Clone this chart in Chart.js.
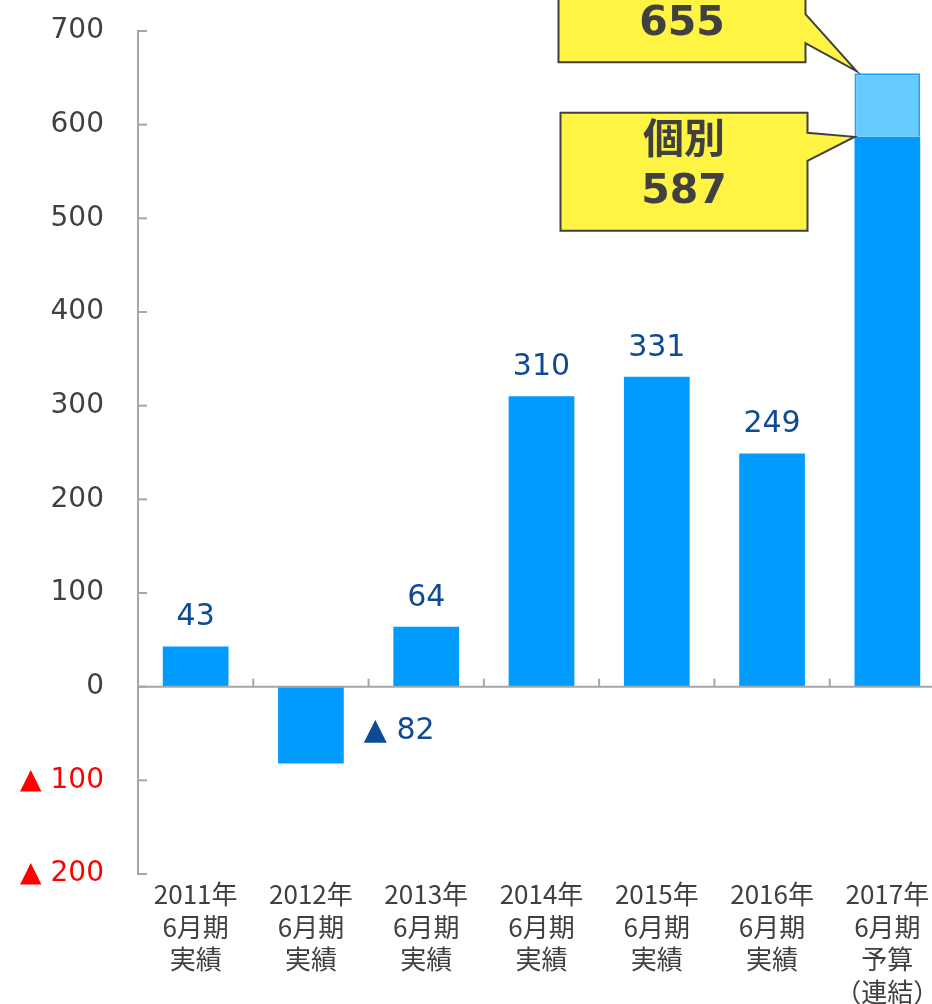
<!DOCTYPE html>
<html>
<head>
<meta charset="utf-8">
<script src="https://cdn.jsdelivr.net/npm/chart.js@4/dist/chart.umd.min.js"></script>
<style>
  html, body { margin: 0; padding: 0; background: #fff; overflow: hidden; }
  #wrap { width: 932px; height: 1004px; overflow: hidden; }
</style>
</head>
<body>
<div id="wrap"><canvas id="bar-chart" width="960" height="1004"></canvas></div>
<script>
// categories (x axis)
var categories = [
  ['2011年', '6月期', '実績'],
  ['2012年', '6月期', '実績'],
  ['2013年', '6月期', '実績'],
  ['2014年', '6月期', '実績'],
  ['2015年', '6月期', '実績'],
  ['2016年', '6月期', '実績'],
  ['2017年', '6月期', '予算', '（連結）']
];
// 個別 values
var kobetsu = [43, -82, 64, 310, 331, 249, 587];
// 連結 budget (last year only)
var renketsu = [null, null, null, null, null, null, 655];
// y ticks
var yMin = -200, yMax = 700, yStep = 100;

var upper = renketsu.map(function(v, i){ return v === null ? null : v - kobetsu[i]; });

var AXIS = '#A6A6A6';
var TXT = '#404040';
var LBL = '#0F4A94';

function tri(v){ return v < 0 ? '▲ ' + (-v) : String(v); }

var decor = {
  id: 'decor',
  afterDatasetsDraw: function(chart){
    var c = chart.ctx, a = chart.chartArea;
    var xs = chart.scales.x, ys = chart.scales.y;
    var y0 = ys.getPixelForValue(0);
    c.save();
    // zero line + ticks
    c.strokeStyle = AXIS; c.lineWidth = 2;
    c.beginPath(); c.moveTo(a.left, y0); c.lineTo(a.right, y0); c.stroke();
    ys.ticks.forEach(function(t){
      var y = ys.getPixelForValue(t.value);
      c.beginPath(); c.moveTo(a.left, y); c.lineTo(a.left + 9, y); c.stroke();
    });
    for (var i = 1; i < categories.length; i++) {
      var x = (xs.getPixelForValue(i - 1) + xs.getPixelForValue(i)) / 2;
      c.beginPath(); c.moveTo(x, y0); c.lineTo(x, y0 - 8); c.stroke();
    }
    // value labels
    var meta = chart.getDatasetMeta(0);
    c.font = '30px "DejaVu Sans"';
    c.fillStyle = LBL;
    meta.data.forEach(function(bar, i){
      if (renketsu[i] !== null) return;
      var v = kobetsu[i];
      if (v >= 0) {
        c.textAlign = 'center'; c.textBaseline = 'alphabetic';
        c.fillText(String(v), bar.x, bar.y - 21);
      } else {
        c.textAlign = 'left'; c.textBaseline = 'middle';
        c.fillText(tri(v), bar.x + bar.width / 2 + 20, (y0 + bar.y) / 2 + 6);
      }
    });
    // callouts for the budget bar
    var last = kobetsu.length - 1;
    var b0 = meta.data[last];
    var b1 = chart.getDatasetMeta(1).data[last];
    var leftEdge = b0.x - b0.width / 2;
    callout(c, leftEdge + 2, b1.y - 2, 'top', ['連結', String(renketsu[last])]);
    callout(c, leftEdge, b0.y, 'mid', ['個別', String(kobetsu[last])]);
    c.restore();
  }
};

function callout(c, tx, ty, kind, lines){
  var w = 247, h = 118, r, t, p1, p2;
  if (kind === 'top') {
    r = tx - 51; t = ty - 9 - h; p1 = t + h - 48; p2 = t + h - 19;
  } else {
    r = tx - 47; t = ty - 24; p1 = t + 20; p2 = t + 48;
  }
  var l = r - w;
  c.beginPath();
  c.moveTo(l, t); c.lineTo(r, t); c.lineTo(r, p1); c.lineTo(tx, ty);
  c.lineTo(r, p2); c.lineTo(r, t + h); c.lineTo(l, t + h); c.closePath();
  c.fillStyle = '#FFF344'; c.fill();
  c.strokeStyle = '#404040'; c.lineWidth = 2; c.lineJoin = 'miter'; c.stroke();
  c.fillStyle = '#404040';
  c.font = 'bold 41px "DejaVu Sans", "Noto Sans CJK JP"';
  c.textAlign = 'center'; c.textBaseline = 'middle';
  c.fillText(lines[0], (l + r) / 2, t + 30);
  c.fillText(lines[1], (l + r) / 2, t + 80);
}

var ctx = document.getElementById('bar-chart');
var barGraph = new Chart(ctx, {
  type: 'bar',
  data: {
    labels: categories,
    datasets: [
      {
        label: '個別',
        data: kobetsu,
        backgroundColor: '#009BFF',
        barPercentage: 0.57,
        categoryPercentage: 1
      },
      {
        label: '連結',
        data: upper,
        backgroundColor: '#66CCFF',
        borderColor: '#1AA3FF',
        borderWidth: 2,
        barPercentage: 0.57,
        categoryPercentage: 1
      }
    ]
  },
  options: {
    responsive: false,
    animation: false,
    events: [],
    layout: { padding: { top: 31, right: 15, left: 0, bottom: 0 } },
    plugins: { legend: { display: false }, tooltip: { enabled: false } },
    scales: {
      x: {
        stacked: true,
        grid: { display: false, drawTicks: false },
        border: { display: false },
        ticks: {
          autoSkip: false, maxRotation: 0, padding: 4,
          color: TXT,
          font: { family: '"Noto Sans CJK JP"', size: 26, lineHeight: 1.25 }
        },
        afterFit: function(s){ s.height = 130; s.paddingLeft = 0; s.paddingRight = 0; }
      },
      y: {
        stacked: true,
        min: yMin, max: yMax,
        grid: { display: false, drawTicks: false },
        border: { display: true, color: AXIS, width: 2 },
        ticks: {
          stepSize: yStep, padding: 34,
          font: { family: '"DejaVu Sans"', size: 28 },
          color: function(t){ return t.tick.value < 0 ? '#FF0000' : TXT; },
          callback: function(v){ return tri(v); }
        },
        afterFit: function(s){ s.width = 138; s.paddingTop = 0; s.paddingBottom = 0; }
      }
    }
  },
  plugins: [decor]
});
</script>
</body>
</html>
